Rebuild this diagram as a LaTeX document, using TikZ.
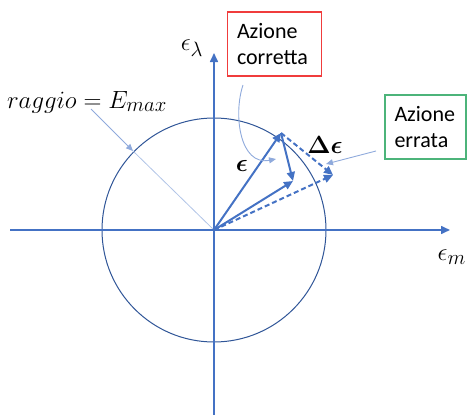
\documentclass[tikz,border=0pt]{standalone}
\usepackage{fontspec}
\usepackage{amsmath}
\setmainfont{Carlito}
\usetikzlibrary{arrows.meta}
\definecolor{axisBlue}{HTML}{4472C4}
\definecolor{ringBlue}{HTML}{2F5597}
\definecolor{paleBlue}{HTML}{8FAADC}
\definecolor{boxRed}{HTML}{F03C3C}
\definecolor{boxGreen}{HTML}{4CB47A}
\tikzset{
  vecAxis/.style={-{Triangle[length=9pt,width=8pt]}, axisBlue, line width=1.6pt},
  vecRing/.style={draw=ringBlue, line width=1pt},
  vecArrow/.style={-{Triangle[length=9pt,width=8pt]}, axisBlue, line width=2pt},
  vecDashedArrow/.style={vecArrow, dash pattern=on 5pt off 3pt},
  vecPointer/.style={-{Triangle[length=7pt,width=6pt]}, paleBlue, line width=0.9pt},
  vecRadius/.style={paleBlue!70, line width=0.8pt},
  vecBox/.style={draw, line width=1.2pt, align=left, inner xsep=9.5pt, font=\fontsize{22}{26}\selectfont, minimum height=64pt},
  vecLabel/.style={font=\fontsize{24.88}{30}\selectfont, inner sep=0pt}
}
\begin{document}
\begin{tikzpicture}[x=1pt, y=-1pt]
  \useasboundingbox (0,0) rectangle (467,415);
  % points
  \coordinate (origin) at (214,230);
  \coordinate (tipA) at (281,133);
  \coordinate (tipB) at (293,181);
  \coordinate (tipC) at (333,175);
  \coordinate (xLeft) at (10,230);
  \coordinate (xRight) at (450,230);
  \coordinate (yBottom) at (214,415);
  \coordinate (yTop) at (214,53);
  \coordinate (rimPoint) at (133,151);
  % circle and radius
  \draw[vecRing] (origin) circle[radius=112];
  \draw[vecRadius] (origin) -- (rimPoint);
  % axes
  \draw[vecAxis] (xLeft) -- (xRight);
  \draw[vecAxis] (yBottom) -- (yTop);
  \node[vecLabel] (epsLambda) at (192,48) {$\epsilon_\lambda$};
  \node[vecLabel, anchor=east] (epsM) at (466,257) {$\epsilon_m$};
  % vectors
  \draw[vecArrow] (origin) -- (tipA);
  \draw[vecArrow] (tipA) -- (tipB);
  \draw[vecArrow] (origin) -- (tipB);
  \draw[vecDashedArrow] (tipA) -- (tipC);
  \draw[vecDashedArrow] (origin) -- (tipC);
  \node[vecLabel] (epsVec) at (242,166) {$\boldsymbol{\epsilon}$};
  \node[vecLabel] (deltaEps) at (325,145) {$\boldsymbol{\Delta\epsilon}$};
  % labels and pointers
  \node[vecLabel] (radiusLabel) at (87,102) {$raggio = E_{max}$};
  \coordinate (radiusTail) at (91,109);
  \draw[vecPointer] (radiusTail) -- (rimPoint);
  \node[vecBox, draw=boxRed, text width=75pt] (rightBox) at (274.5,44) {Azione\\corretta};
  \coordinate (rightTail) at (243,85);
  \coordinate (rightHead) at (276,159);
  \draw[vecPointer] (rightTail) .. controls (233,115) and (240,166) .. (rightHead);
  \node[vecBox, draw=boxGreen, text width=62pt] (wrongBox) at (425.5,127) {Azione\\errata};
  \coordinate (wrongTail) at (376,151);
  \coordinate (wrongHead) at (326,164);
  \draw[vecPointer] (wrongTail) -- (wrongHead);
\end{tikzpicture}
\end{document}
